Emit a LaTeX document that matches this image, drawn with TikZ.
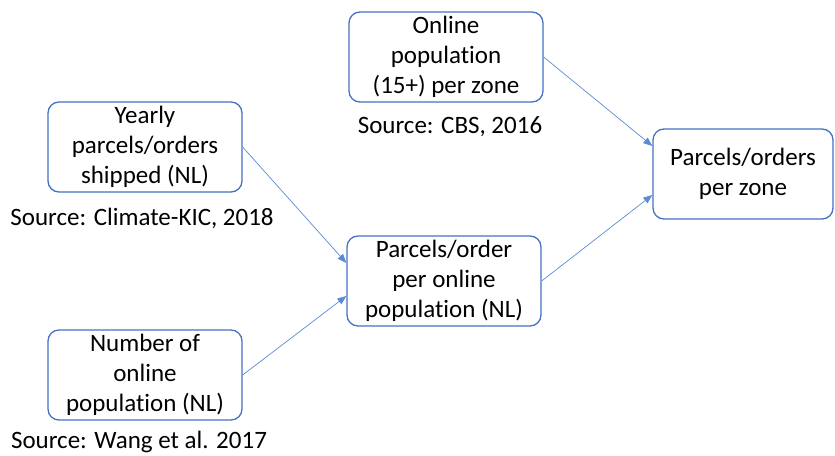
\documentclass[tikz,border=0pt]{standalone}
\usepackage{fontspec}
\setmainfont{Carlito}[Ligatures=NoCommon]
\usepackage{tikz}
\usetikzlibrary{positioning, arrows.meta, calc}
\definecolor{BoxBlue}{HTML}{4472C4}
\definecolor{LinkBlue}{HTML}{5B8BD6}

\begin{document}
\begin{tikzpicture}[
      x=1pt, y=-1pt,
      stage/.style={draw=BoxBlue, line width=1.3pt, rounded corners=11pt, align=center,
        minimum width=194pt, minimum height=90pt, inner sep=0pt,
        font=\fontsize{25}{30}\selectfont},
      source/.style={font=\fontsize{25}{30}\selectfont, inner sep=0pt},
      link/.style={LinkBlue, line width=0.7pt, -{Triangle[length=9pt, width=7pt]}}
  ]
    \useasboundingbox (0,0) rectangle (835,455);
    \node[stage](yearly) at (145,147){Yearly\\parcels/orders\\shipped (NL)};
    \node[stage](number) at (145,375){Number of\\online\\population (NL)};
    \node[stage](online) at (446,57){Online\\population\\(15+) per zone};
    \node[stage](perpop) at (444,281){Parcels/order\\per online\\population (NL)};
    \node[stage, minimum width=180pt](zone) at (743,174){Parcels/orders\\per zone};
    \node[source](srcklimate) at (142,218){Source: Climate-KIC, 2018};
    \node[source](srcwang) at (139,442){Source: Wang et al. 2017};
    \node[source](srccbs) at (450,127){Source: CBS, 2016};
    \draw[link](yearly.east)--([yshift=18pt]perpop.west);
    \draw[link](number.east)--([yshift=-15pt]perpop.west);
    \draw[link](online.east)--([yshift=28pt]zone.west);
    \draw[link](perpop.east)--([yshift=-21pt]zone.west);
  \end{tikzpicture}
\end{document}
